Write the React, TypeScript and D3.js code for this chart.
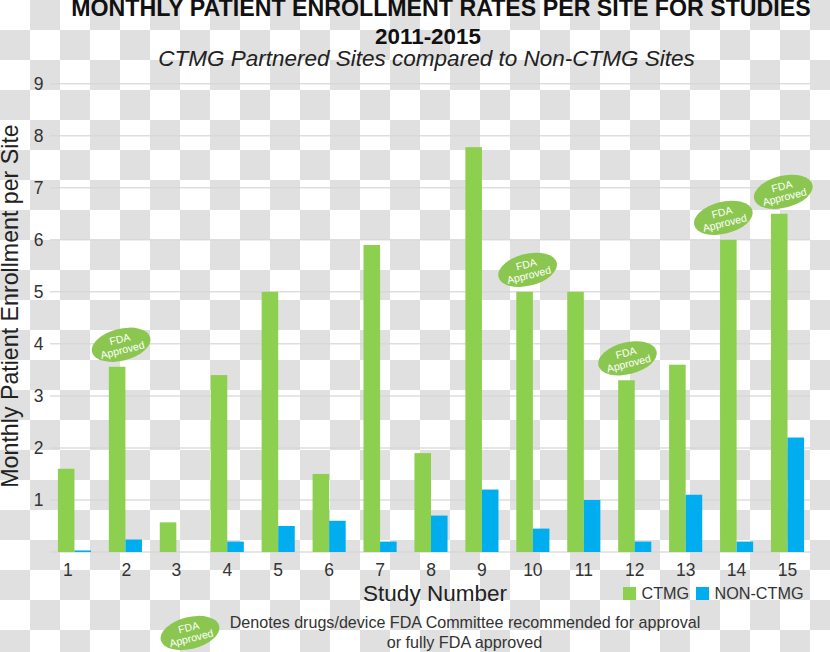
import React, { useRef, useEffect } from "react";
import * as d3 from "d3";

const studies = ["1", "2", "3", "4", "5", "6", "7", "8", "9", "10", "11", "12", "13", "14", "15"];
const ctmg = [1.6, 3.56, 0.57, 3.4, 5, 1.5, 5.9, 1.9, 7.78, 5, 5, 3.3, 3.6, 6, 6.5];
const nonCtmg = [0.03, 0.24, 0, 0.2, 0.5, 0.6, 0.2, 0.7, 1.2, 0.45, 1, 0.2, 1.1, 0.2, 2.2];
const yTicks = [1, 2, 3, 4, 5, 6, 7, 8, 9];
const fdaStudies = ["2", "10", "12", "14", "15"];

const GREEN = "#8dcf4f";
const BLUE = "#00aeef";
const BADGE = "#8bc750";
const FONT = "'Liberation Sans', Arial, sans-serif";

const width = 830;
const height = 652;

const App: React.FC = () => {
  const svgRef = useRef<SVGSVGElement>(null);

  useEffect(() => {
    if (!svgRef.current) return;
    const svg = d3.select(svgRef.current);
    svg.selectAll("*").remove();

    // transparency checkerboard that is baked into the picture
    const cell = 30;
    const bg = svg.append("g");
    d3.range(Math.ceil(height / cell)).forEach((row) => {
      d3.range(Math.ceil(width / cell)).forEach((col) => {
        bg.append("rect")
          .attr("x", col * cell)
          .attr("y", row * cell)
          .attr("width", cell)
          .attr("height", cell)
          .attr("fill", (row + col) % 2 ? "#e0e0e0" : "#ffffff");
      });
    });

    const xScale = d3
      .scaleBand()
      .domain(studies)
      .range([49, 813])
      .paddingInner(0.35)
      .paddingOuter(0.175);
    const inner = d3
      .scaleBand()
      .domain(["ctmg", "non"])
      .range([0, xScale.bandwidth()]);
    const yScale = d3.scaleLinear().domain([0, 9]).range([552, 83.7]);

    // Gridlines
    svg
      .append("g")
      .selectAll("line")
      .data([0, ...yTicks])
      .enter()
      .append("line")
      .attr("x1", 50)
      .attr("x2", 810)
      .attr("y1", (d) => yScale(d))
      .attr("y2", (d) => yScale(d))
      .attr("stroke", "#d6d6d6")
      .attr("stroke-opacity", 0.8)
      .attr("stroke-width", 1.5);

    // Y tick labels
    svg
      .append("g")
      .selectAll("text")
      .data(yTicks)
      .enter()
      .append("text")
      .attr("x", 38.5)
      .attr("y", (d) => yScale(d) + 6)
      .attr("text-anchor", "middle")
      .attr("font-size", 17.5)
      .attr("fill", "#333333")
      .text((d) => d);

    // X tick labels
    svg
      .append("g")
      .selectAll("text")
      .data(studies)
      .enter()
      .append("text")
      .attr("x", (d) => (xScale(d) ?? 0) + xScale.bandwidth() / 2 + (d === "1" ? -6.5 : d === "2" ? 1 : 0))
      .attr("y", 576)
      .attr("text-anchor", "middle")
      .attr("font-size", 17.5)
      .attr("fill", "#333333")
      .text((d) => d);

    // Bars
    svg
      .append("g")
      .selectAll("rect")
      .data(studies)
      .enter()
      .append("rect")
      .attr("x", (d) => (xScale(d) ?? 0) + (inner("ctmg") ?? 0))
      .attr("y", (d, i) => yScale(ctmg[i]))
      .attr("width", inner.bandwidth())
      .attr("height", (d, i) => yScale(0) - yScale(ctmg[i]))
      .attr("fill", GREEN);
    svg
      .append("g")
      .selectAll("rect")
      .data(studies)
      .enter()
      .append("rect")
      .attr("x", (d) => (xScale(d) ?? 0) + (inner("non") ?? 0))
      .attr("y", (d, i) => yScale(nonCtmg[i]))
      .attr("width", inner.bandwidth())
      .attr("height", (d, i) => yScale(0) - yScale(nonCtmg[i]))
      .attr("fill", BLUE);

    const badge = (cx: number, cy: number) => {
      const g = svg.append("g").attr("transform", `translate(${cx},${cy}) rotate(-14)`);
      g.append("ellipse").attr("rx", 30).attr("ry", 16).attr("fill", BADGE);
      ["FDA", "Approved"].forEach((t, i) => {
        g.append("text")
          .attr("y", i === 0 ? -2 : 9)
          .attr("text-anchor", "middle")
          .attr("font-size", 10.5)
          .attr("fill", "#ffffff")
          .text(t);
      });
    };

    // FDA badges sit just above the green bar
    const badgeShift: Record<string, number> = { "2": 4, "10": 3, "12": 1, "14": -5, "15": 4 };
    fdaStudies.forEach((s) => {
      const i = studies.indexOf(s);
      const cx = (xScale(s) ?? 0) + inner.bandwidth() / 2 + badgeShift[s];
      badge(cx, yScale(ctmg[i]) - 22);
    });
    badge(190, 633);

    // Titles
    svg
      .append("text")
      .attr("x", 441)
      .attr("y", 16)
      .attr("text-anchor", "middle")
      .attr("font-size", 23.2)
      .attr("font-weight", "bold")
      .attr("fill", "#111111")
      .text("MONTHLY PATIENT ENROLLMENT RATES PER SITE FOR STUDIES");
    svg
      .append("text")
      .attr("x", 428)
      .attr("y", 44)
      .attr("text-anchor", "middle")
      .attr("font-size", 22.4)
      .attr("font-weight", "bold")
      .attr("fill", "#111111")
      .text("2011-2015");
    svg
      .append("text")
      .attr("x", 426.5)
      .attr("y", 66)
      .attr("text-anchor", "middle")
      .attr("font-size", 22.5)
      .attr("font-style", "italic")
      .attr("fill", "#222222")
      .text("CTMG Partnered Sites compared to Non-CTMG Sites");

    // Axis titles
    svg
      .append("text")
      .attr("transform", "translate(18,306) rotate(-90)")
      .attr("text-anchor", "middle")
      .attr("font-size", 23.2)
      .attr("fill", "#222222")
      .text("Monthly Patient Enrollment per Site");
    svg
      .append("text")
      .attr("x", 435)
      .attr("y", 600.5)
      .attr("text-anchor", "middle")
      .attr("font-size", 22.5)
      .attr("fill", "#222222")
      .text("Study Number");

    // Legend
    const legendItems = [
      { color: GREEN, label: "CTMG", x: 623 },
      { color: BLUE, label: "NON-CTMG", x: 696 },
    ];
    legendItems.forEach((item) => {
      svg
        .append("rect")
        .attr("x", item.x)
        .attr("y", 587)
        .attr("width", 13)
        .attr("height", 13)
        .attr("fill", item.color);
      svg
        .append("text")
        .attr("x", item.x + 18.5)
        .attr("y", 599)
        .attr("font-size", 16.2)
        .attr("fill", "#333333")
        .text(item.label);
    });

    // Footnote
    svg
      .append("text")
      .attr("x", 465)
      .attr("y", 628)
      .attr("text-anchor", "middle")
      .attr("font-size", 16.1)
      .attr("fill", "#333333")
      .text("Denotes drugs/device FDA Committee recommended for approval");
    svg
      .append("text")
      .attr("x", 464.5)
      .attr("y", 648)
      .attr("text-anchor", "middle")
      .attr("font-size", 16.2)
      .attr("fill", "#333333")
      .text("or fully FDA approved");
  }, []);

  return (
    <svg
      ref={svgRef}
      width={width}
      height={height}
      fontFamily={FONT}
      style={{ position: "absolute", left: 0, top: 0 }}
    ></svg>
  );
};

export default App;
